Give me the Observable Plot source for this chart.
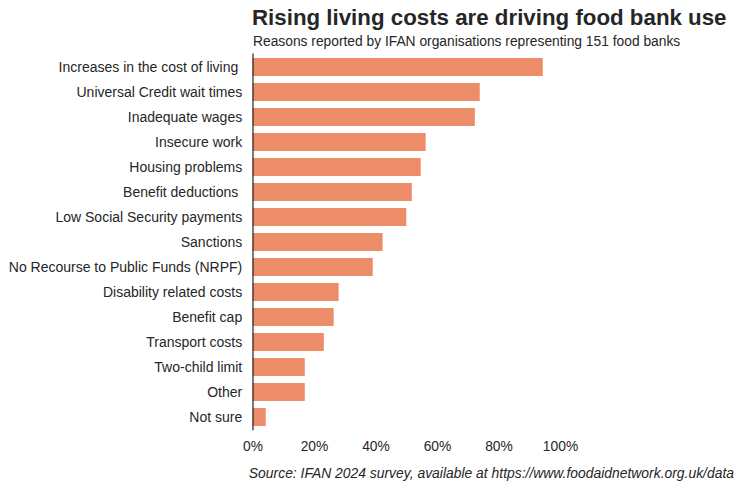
<!DOCTYPE html>
<html>
<head>
<meta charset="utf-8">
<script src="https://cdn.jsdelivr.net/npm/d3@7"></script>
<script src="https://cdn.jsdelivr.net/npm/@observablehq/plot@0.6"></script>
<style>
  body { margin: 0; background: #fff; font-family: "Liberation Sans", Arial, sans-serif; color: #262626; }
  #wrap { position: relative; width: 743px; height: 490px; }
  #head { position: relative; height: 50px; }
  #title { position: absolute; left: 252px; top: 5.4px; font-size: 22.3px; font-weight: bold; line-height: 26px; white-space: nowrap; }
  #subtitle { position: absolute; left: 253px; top: 34px; font-size: 13.8px; line-height: 16px; white-space: nowrap; }
  #caption { position: absolute; right: 9px; top: 465px; font-size: 13.9px; font-style: italic; line-height: 16px; white-space: nowrap; }
  svg text { white-space: pre; }
</style>
</head>
<body>
<div id="wrap">
  <div id="head">
    <div id="title">Rising living costs are driving food bank use</div>
    <div id="subtitle">Reasons reported by IFAN organisations representing 151 food banks</div>
  </div>
  <div id="chart"></div>
  <div id="caption">Source: IFAN 2024 survey, available at https://www.foodaidnetwork.org.uk/data</div>
</div>
<script>
const reasons = [
  "Increases in the cost of living ",
  "Universal Credit wait times",
  "Inadequate wages",
  "Insecure work",
  "Housing problems",
  "Benefit deductions ",
  "Low Social Security payments",
  "Sanctions",
  "No Recourse to Public Funds (NRPF)",
  "Disability related costs",
  "Benefit cap",
  "Transport costs",
  "Two-child limit",
  "Other",
  "Not sure"
];
const shares = [0.944, 0.739, 0.723, 0.563, 0.547, 0.518, 0.500, 0.423, 0.391, 0.280, 0.264, 0.232, 0.170, 0.170, 0.043];
const xTicks = [0, 0.2, 0.4, 0.6, 0.8, 1.0];

const data = reasons.map((r, i) => ({reason: r, share: shares[i]}));

const chart = Plot.plot({
  width: 743,
  height: 405,
  marginTop: 3.4,
  marginBottom: 24.4,
  marginLeft: 252.5,
  marginRight: 183,
  style: { fontFamily: "Liberation Sans, Arial, sans-serif", fontSize: "13.8px", color: "#262626", background: "#fff" },
  x: { domain: [0, 1], ticks: xTicks, tickFormat: d3.format(".0%"), label: null },
  y: { domain: reasons, paddingInner: 0.28, paddingOuter: 0.14, label: null },
  marks: [
    Plot.barX(data, { x: "share", y: "reason", fill: "#ec8c69" }),
    Plot.axisX({ ticks: xTicks, tickFormat: d3.format(".0%"), tickSize: 0, tickPadding: 10, fontSize: 13.8, label: null }),
    Plot.axisY({ tickSize: 0, tickPadding: 10.8, fontSize: 14, label: null }),
    Plot.ruleX([0], { stroke: "#262626", strokeWidth: 1.2 })
  ]
});
document.getElementById("chart").appendChild(chart);
</script>
</body>
</html>
